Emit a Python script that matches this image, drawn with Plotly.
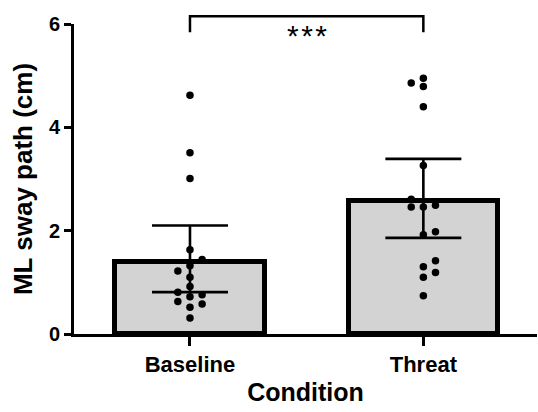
import plotly.graph_objects as go

# Conditions and summary values
conditions = ["Baseline", "Threat"]
bar_heights = [1.40, 2.57]
ci_low = [0.81, 1.86]
ci_high = [2.10, 3.39]

# Individual participant values, with their horizontal column (-1, 0, +1)
baseline_vals = [4.62, 3.51, 3.01, 1.63, 1.44, 1.32, 1.22, 1.10, 0.92, 0.81,
                 0.76, 0.72, 0.63, 0.58, 0.52, 0.31]
baseline_cols = [0, 0, 0, 0, 1, 0, -1, 0, 0, -1, 1, 0, -1, 1, 0, 0]
threat_vals = [4.95, 4.86, 4.79, 4.40, 3.26, 2.61, 2.49, 2.46, 2.46, 1.98,
               1.92, 1.42, 1.30, 1.19, 1.10, 0.74]
threat_cols = [0, -1, 0, 0, 0, -1, 1, -1, 0, 1, 0, 1, 0, 1, 0, 0]

# Significance bracket
sig_label = "***"
bracket_top = 6.15
bracket_bottom = 5.84
y_max = 6

FONT = "Liberation Sans, Arial, sans-serif"
col_step = 0.052

xpos = list(range(len(conditions)))

fig = go.Figure()

fig.add_trace(go.Bar(
    x=xpos,
    y=bar_heights,
    width=0.64,
    marker=dict(color="#d3d3d3", line=dict(color="black", width=5)),
    error_y=dict(
        type="data",
        symmetric=False,
        array=[h - b for h, b in zip(ci_high, bar_heights)],
        arrayminus=[b - l for b, l in zip(bar_heights, ci_low)],
        color="black",
        thickness=2.6,
        width=38,
    ),
    showlegend=False,
    hoverinfo="skip",
))

pts_x = ([xpos[0] + c * col_step for c in baseline_cols]
         + [xpos[1] + c * col_step for c in threat_cols])
pts_y = baseline_vals + threat_vals
fig.add_trace(go.Scatter(
    x=pts_x,
    y=pts_y,
    mode="markers",
    marker=dict(color="black", size=7.5),
    showlegend=False,
    cliponaxis=False,
))

# Bracket drawn from category centres and value heights
yb = bracket_bottom / y_max
yt = bracket_top / y_max
fig.add_shape(
    type="path",
    xref="x", yref="y domain",
    path=f"M {xpos[0]},{yb} L {xpos[0]},{yt} L {xpos[1]},{yt} L {xpos[1]},{yb}",
    line=dict(color="black", width=2.5),
)
fig.add_annotation(
    x=(xpos[0] + xpos[1]) / 2, xref="x",
    y=5.77 / y_max, yref="y domain",
    text="*\u200a*\u200a*" if sig_label == "***" else sig_label,
    showarrow=False,
    yanchor="middle",
    font=dict(family=FONT, size=30, color="black"),
)

fig.update_layout(
    width=538, height=412,
    margin=dict(l=74, r=1, t=24, b=78),
    paper_bgcolor="white",
    plot_bgcolor="white",
    bargap=0,
    xaxis=dict(
        range=[-0.497, 1.487],
        tickmode="array",
        tickvals=xpos,
        ticktext=conditions,
        ticks="outside",
        ticklen=9,
        tickwidth=3,
        tickcolor="black",
        showline=True,
        linecolor="black",
        linewidth=3,
        showgrid=False,
        zeroline=False,
        tickfont=dict(family=FONT, size=22, color="black", weight="bold"),
        title=dict(text="Condition",
                   font=dict(family=FONT, size=25, color="black", weight="bold"),
                   standoff=8),
    ),
    yaxis=dict(
        range=[0, y_max],
        tickmode="array",
        tickvals=[0, 2, 4, 6],
        ticks="outside",
        ticklen=7,
        tickwidth=3,
        tickcolor="black",
        showline=True,
        linecolor="black",
        linewidth=3,
        showgrid=False,
        zeroline=False,
        tickfont=dict(family=FONT, size=20, color="black", weight="bold"),
        title=dict(text="ML sway path (cm)",
                   font=dict(family=FONT, size=26, color="black", weight="bold"),
                   standoff=9),
    ),
)

fig.write_html("out.html")
